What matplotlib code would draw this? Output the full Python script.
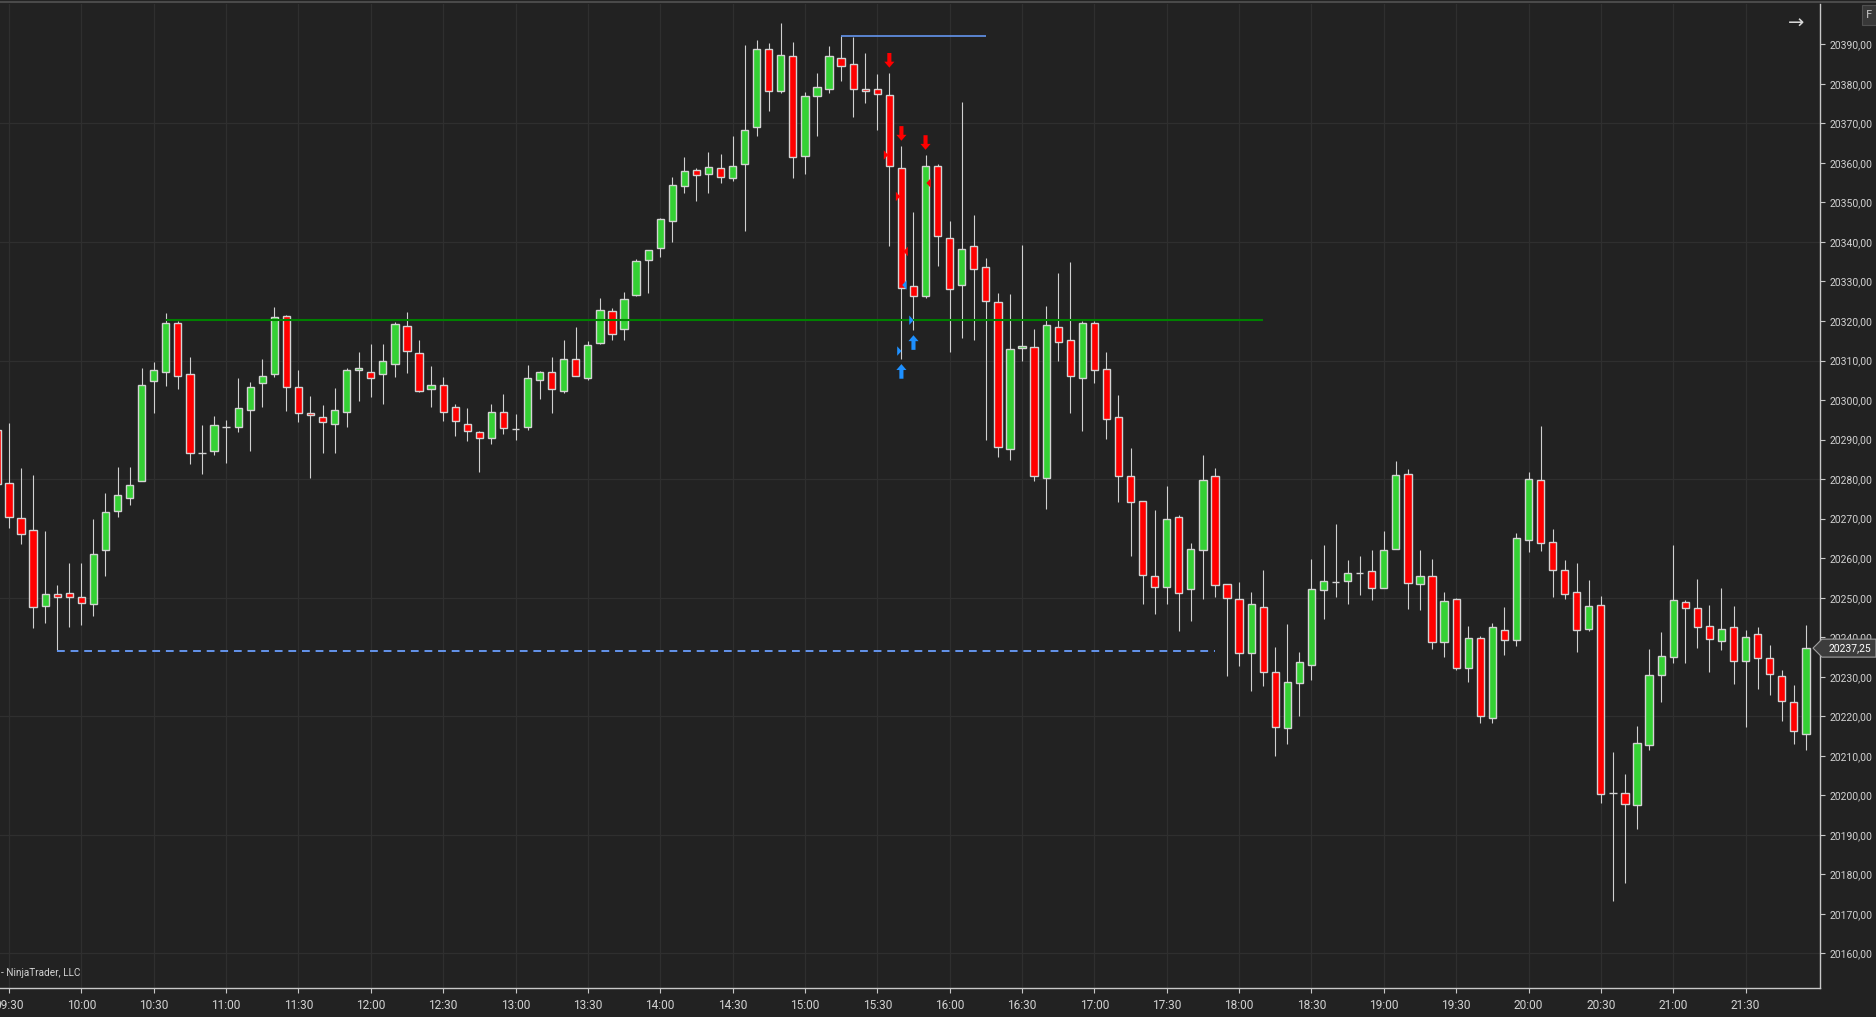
import numpy as np
import matplotlib
matplotlib.use('Agg')
import matplotlib.pyplot as plt
from matplotlib import font_manager

# 5 minute bars, first entry is the partial bar cut by the left edge (index -1)
opens = [20292.4, 20279.0, 20270.2, 20267.2, 20248.0, 20251.0, 20251.3, 20250.2, 20248.5, 20262.1,
         20271.9, 20275.2, 20279.4, 20304.7, 20307.0, 20319.6, 20306.5, 20286.7, 20287.0, 20293.1,
         20293.1, 20297.6, 20304.2, 20306.7, 20321.3, 20303.2, 20296.6, 20295.6, 20293.9, 20297.1,
         20307.5, 20307.2, 20306.7, 20309.0, 20318.8, 20311.8, 20302.7, 20303.7, 20298.2, 20293.9,
         20291.8, 20290.3, 20296.9, 20292.6, 20293.1, 20305.2, 20307.2, 20302.4, 20310.3, 20305.5,
         20314.5, 20322.5, 20318.1, 20326.6, 20335.5, 20338.4, 20345.3, 20354.1, 20358.2, 20357.1,
         20358.7, 20356.1, 20359.7, 20369.0, 20388.7, 20378.1, 20387.1, 20361.7, 20376.8, 20378.6,
         20386.6, 20385.1, 20378.8, 20378.6, 20377.1, 20358.7, 20328.9, 20326.2, 20359.3, 20340.9,
         20329.0, 20338.9, 20333.6, 20324.7, 20287.7, 20313.1, 20313.4, 20280.4, 20318.6, 20315.1,
         20305.5, 20319.4, 20307.9, 20295.8, 20280.7, 20274.4, 20255.4, 20252.6, 20270.3, 20252.2,
         20262.0, 20280.8, 20253.4, 20249.6, 20236.0, 20247.6, 20231.2, 20217.0, 20228.3, 20233.1,
         20251.9, 20254.0, 20254.2, 20256.3, 20256.7, 20252.4, 20262.3, 20281.3, 20253.4, 20255.5,
         20238.8, 20249.6, 20232.2, 20239.8, 20219.6, 20241.8, 20239.3, 20264.6, 20279.7, 20264.1,
         20257.0, 20251.4, 20242.0, 20248.1, 20200.7, 20200.5, 20197.5, 20212.7, 20230.4, 20235.1,
         20248.9, 20247.4, 20242.8, 20239.0, 20242.6, 20234.0, 20240.8, 20234.7, 20230.2, 20223.6,
         20215.5]
highs = [20295.5, 20294.1, 20282.8, 20281.1, 20267.0, 20253.1, 20258.8, 20258.8, 20270.0, 20276.6,
         20283.1, 20283.1, 20308.0, 20309.6, 20322.1, 20320.0, 20310.8, 20293.7, 20296.0, 20294.9,
         20305.5, 20304.5, 20310.3, 20323.5, 20321.5, 20307.6, 20301.0, 20298.7, 20303.0, 20308.2,
         20312.1, 20314.1, 20314.1, 20319.7, 20322.2, 20315.1, 20308.6, 20305.8, 20299.0, 20298.0,
         20292.1, 20299.0, 20301.5, 20296.5, 20308.8, 20307.3, 20310.8, 20315.1, 20318.4, 20314.9,
         20325.7, 20323.2, 20327.4, 20335.7, 20338.0, 20346.1, 20356.5, 20361.5, 20358.7, 20362.8,
         20362.3, 20366.8, 20389.7, 20391.0, 20390.3, 20395.5, 20390.5, 20378.0, 20382.7, 20389.5,
         20392.2, 20391.8, 20387.7, 20382.4, 20382.7, 20364.3, 20347.6, 20362.0, 20359.7, 20345.2,
         20375.4, 20346.8, 20335.9, 20327.1, 20326.8, 20339.2, 20318.0, 20323.7, 20332.2, 20334.9,
         20319.9, 20319.9, 20312.2, 20301.2, 20287.8, 20274.4, 20272.3, 20278.2, 20270.9, 20263.8,
         20286.0, 20282.9, 20253.4, 20254.0, 20251.5, 20257.1, 20237.6, 20243.4, 20236.3, 20259.8,
         20263.3, 20268.7, 20259.6, 20260.6, 20262.1, 20266.9, 20284.6, 20282.6, 20262.1, 20259.8,
         20251.5, 20249.9, 20242.9, 20240.4, 20243.7, 20247.7, 20266.4, 20281.9, 20293.5, 20267.4,
         20259.6, 20258.8, 20254.5, 20250.5, 20211.0, 20205.5, 20217.6, 20237.1, 20241.4, 20263.4,
         20249.3, 20254.8, 20248.2, 20252.5, 20248.0, 20241.9, 20242.6, 20238.1, 20231.8, 20228.0,
         20243.2]
lows = [20277.0, 20267.6, 20263.7, 20242.3, 20243.5, 20236.5, 20242.6, 20243.1, 20245.4, 20255.5,
        20270.3, 20273.4, 20279.4, 20296.8, 20303.6, 20302.9, 20283.7, 20281.2, 20286.2, 20284.0,
        20292.0, 20287.2, 20298.3, 20305.9, 20297.3, 20294.5, 20280.4, 20286.5, 20286.7, 20293.3,
        20299.8, 20300.8, 20299.1, 20305.9, 20306.9, 20302.1, 20298.3, 20294.8, 20291.0, 20289.7,
        20281.7, 20289.0, 20291.3, 20290.0, 20292.5, 20300.3, 20296.8, 20301.8, 20306.0, 20305.0,
        20314.3, 20315.1, 20315.2, 20326.3, 20327.0, 20336.1, 20339.9, 20352.5, 20350.3, 20352.5,
        20355.0, 20355.3, 20342.7, 20366.9, 20373.2, 20377.7, 20356.3, 20357.1, 20366.9, 20377.8,
        20380.8, 20371.7, 20375.2, 20368.4, 20338.9, 20310.3, 20317.7, 20325.7, 20333.8, 20312.1,
        20315.8, 20315.3, 20290.0, 20285.5, 20284.9, 20310.0, 20279.6, 20272.5, 20310.0, 20296.6,
        20292.1, 20304.3, 20290.2, 20274.3, 20260.6, 20248.5, 20246.0, 20248.3, 20241.7, 20244.2,
        20249.6, 20250.1, 20230.1, 20232.6, 20226.5, 20227.6, 20209.9, 20213.0, 20220.2, 20229.2,
        20244.7, 20250.3, 20248.3, 20250.8, 20249.3, 20252.4, 20262.3, 20247.2, 20246.9, 20237.1,
        20235.1, 20231.6, 20228.6, 20218.2, 20218.2, 20235.6, 20237.9, 20261.5, 20261.7, 20250.1,
        20249.6, 20236.2, 20241.5, 20198.0, 20173.2, 20177.8, 20191.6, 20211.4, 20223.5, 20233.4,
        20233.6, 20237.4, 20231.1, 20236.7, 20228.1, 20217.2, 20226.8, 20225.3, 20218.7, 20213.1,
        20211.4]
closes = [20278.8, 20270.4, 20266.0, 20247.7, 20251.0, 20250.2, 20250.2, 20248.7, 20261.1, 20271.7,
          20276.0, 20278.5, 20303.7, 20307.7, 20319.6, 20306.0, 20286.6, 20286.7, 20293.6, 20293.1,
          20297.9, 20303.4, 20306.0, 20321.1, 20303.2, 20296.6, 20296.1, 20294.4, 20297.6, 20307.7,
          20308.0, 20305.5, 20310.0, 20319.3, 20312.5, 20302.4, 20303.9, 20297.1, 20294.6, 20292.1,
          20290.3, 20296.9, 20292.9, 20292.6, 20305.7, 20307.0, 20302.7, 20310.5, 20306.0, 20314.0,
          20322.9, 20316.8, 20325.6, 20335.2, 20338.0, 20345.8, 20354.4, 20357.9, 20356.9, 20358.9,
          20356.4, 20359.2, 20368.2, 20388.9, 20378.1, 20387.4, 20361.4, 20376.8, 20379.1, 20387.1,
          20384.4, 20378.8, 20378.1, 20377.3, 20359.2, 20328.4, 20326.4, 20359.1, 20341.4, 20328.1,
          20338.3, 20333.2, 20325.0, 20288.1, 20313.0, 20313.6, 20280.9, 20319.0, 20314.8, 20306.0,
          20319.5, 20307.7, 20295.1, 20280.9, 20274.3, 20255.8, 20252.6, 20270.0, 20251.1, 20262.2,
          20279.9, 20253.2, 20249.9, 20236.0, 20248.4, 20231.2, 20217.3, 20228.6, 20233.7, 20252.2,
          20254.2, 20254.0, 20256.2, 20256.3, 20252.4, 20262.0, 20281.0, 20253.7, 20255.5, 20238.8,
          20249.1, 20232.2, 20239.8, 20220.0, 20242.6, 20239.3, 20265.1, 20280.0, 20263.8, 20257.0,
          20250.9, 20241.8, 20247.9, 20200.3, 20200.7, 20197.8, 20213.2, 20230.4, 20235.2, 20249.4,
          20247.4, 20242.6, 20239.5, 20242.1, 20234.0, 20240.0, 20234.7, 20230.7, 20223.8, 20216.3,
          20237.25]
bar_idx = np.arange(-1, len(opens) - 1)

time_labels = ['09:30', '10:00', '10:30', '11:00', '11:30', '12:00', '12:30', '13:00', '13:30',
               '14:00', '14:30', '15:00', '15:30', '16:00', '16:30', '17:00', '17:30', '18:00',
               '18:30', '19:00', '19:30', '20:00', '20:30', '21:00', '21:30']
time_pos = np.arange(0, 6 * len(time_labels), 6)
price_ticks = np.arange(20160, 20391, 10)
grid_prices = np.arange(20160, 20391, 30)

# drawing tools on the chart
green_level, green_span = 20320.25, (13, 104)
top_level, top_span = 20392.2, (69, 81)
low_level, low_span = 20236.5, (4, 100)

sell_arrow_x = [73, 74, 76]
sell_arrow_y = [20384.1, 20365.6, 20363.3]
buy_arrow_x = [74, 75]
buy_arrow_y = [20309.1, 20316.4]

# execution markers (x, price, pointing direction, colour)
exec_x = [72.72, 73.72, 74.35, 76.25, 73.83, 74.83, 74.25]
exec_y = [20362.0, 20351.5, 20337.6, 20354.9, 20312.4, 20320.2, 20329.1]
exec_dir = [1, 1, -1, -1, 1, 1, -1]
exec_col = ['#ff0000', '#ff0000', '#ff0000', '#ff0000', '#1e90ff', '#1e90ff', '#1e90ff']

last_price = closes[-1]

BG = '#222222'
GRID = '#2f2f2f'
FG = '#d2d2d2'
W, H = 1876, 1017

names = {f.name for f in font_manager.fontManager.ttflist}
narrow = 'Liberation Sans Narrow' if 'Liberation Sans Narrow' in names else 'Roboto'

fig = plt.figure(figsize=(W / 100, H / 100), dpi=100, facecolor=BG)
ax = fig.add_axes([0, 1 - 988 / H, 1820 / W, 984 / H])
ax.set_facecolor(BG)
ax.set_xlim(-0.746, 150.17)
ax.set_ylim(20151.27, 20400.19)

for p in grid_prices:
    ax.axhline(p, color=GRID, lw=0.9, zorder=0)
for t in time_pos:
    ax.axvline(t, color=GRID, lw=0.9, zorder=0)

# candles
o = np.array(opens); h = np.array(highs); l = np.array(lows); c = np.array(closes)
up = c >= o
ax.vlines(bar_idx, l, h, color='#d0d0d0', lw=0.8, zorder=2)
ax.bar(bar_idx, np.abs(c - o), bottom=np.minimum(o, c), width=0.6,
       color=np.where(up, '#34d134', '#ff0000'), edgecolor='#d3d3d3', linewidth=1.0, zorder=3)

# lines
ax.hlines(green_level, *green_span, color='#008000', lw=1.5, zorder=4)
ax.hlines(top_level, *top_span, color='#6495ed', lw=1.2, zorder=4)
ax.hlines(low_level, *low_span, color='#6495ed', lw=1.4, linestyles=(0, (4, 3)), zorder=4)

# arrows
def arrow(x, y, d, col):
    hw, sw, hh, tot = 0.42, 0.17, 1.5, 3.7
    xs = [x - hw, x, x + hw, x + sw, x + sw, x - sw, x - sw]
    ys = [y + d * hh, y, y + d * hh, y + d * hh, y + d * tot, y + d * tot, y + d * hh]
    ax.fill(xs, ys, color=col, lw=0, zorder=5)

for x, y in zip(sell_arrow_x, sell_arrow_y):
    arrow(x, y, 1, '#ff0000')
for x, y in zip(buy_arrow_x, buy_arrow_y):
    arrow(x, y, -1, '#1e90ff')

for x, y, d, col in zip(exec_x, exec_y, exec_dir, exec_col):
    ax.fill([x - d * 0.18, x + d * 0.18, x - d * 0.18], [y - 1.2, y, y + 1.2],
            color=col, lw=0, zorder=5)

# axes styling
for s in ['left', 'top']:
    ax.spines[s].set_visible(False)
for s in ['right', 'bottom']:
    ax.spines[s].set_color('#c8c8c8')
    ax.spines[s].set_linewidth(1.0)

ax.yaxis.tick_right()
ax.set_yticks(price_ticks)
ax.set_yticklabels([f'{p:.2f}'.replace('.', ',') for p in price_ticks],
                   family=['Roboto', 'DejaVu Sans'])
ax.set_xticks(time_pos)
ax.set_xticklabels(time_labels, family=[narrow, 'DejaVu Sans'])
ax.tick_params(axis='y', length=3.6, width=0.8, color='#c8c8c8', pad=3,
               labelsize=7.5, labelcolor=FG)
ax.tick_params(axis='x', length=3.6, width=0.8, color='#c8c8c8', pad=4,
               labelsize=8.6, labelcolor=FG)

# last price marker on the price axis
fig.canvas.draw()
yp = ax.transData.transform((0, last_price))[1]
px = [1813, 1822, W, W, 1822]
py = [yp, yp + 9, yp + 9, yp - 9, yp - 9]
marker = plt.Polygon(list(zip(px, py)), closed=True, facecolor='#3c3c3c',
                     edgecolor='#a0a0a0', lw=0.8, transform=None, zorder=10)
fig.patches.append(marker)
fig.text(1829 / W, yp / H, f'{last_price:.2f}'.replace('.', ','), color='white',
         fontsize=7.5, family=['Roboto', 'DejaVu Sans'], va='center', ha='left', zorder=11)

# window decorations
fig.add_artist(plt.Line2D([0, 1], [1 - 2 / H, 1 - 2 / H], color='#4a4a4a', lw=1.5))
fig.text(1796 / W, 1 - 23 / H, '\u2192', color='#d8d8d8', fontsize=14, ha='center', va='center')
fig.patches.append(plt.Rectangle((1862, H - 25), 16, 20, facecolor='#383838',
                                 edgecolor='#505050', lw=0.8, transform=None))
fig.text(1869 / W, 1 - 15 / H, 'F', color='#c8c8c8', fontsize=8, ha='center', va='center')
fig.text(1 / W, 1 - 973 / H, '- NinjaTrader, LLC', color=FG, fontsize=7.2,
         family=[narrow, 'DejaVu Sans'], ha='left', va='center')

fig.savefig('out.png', dpi=100, facecolor=BG)
